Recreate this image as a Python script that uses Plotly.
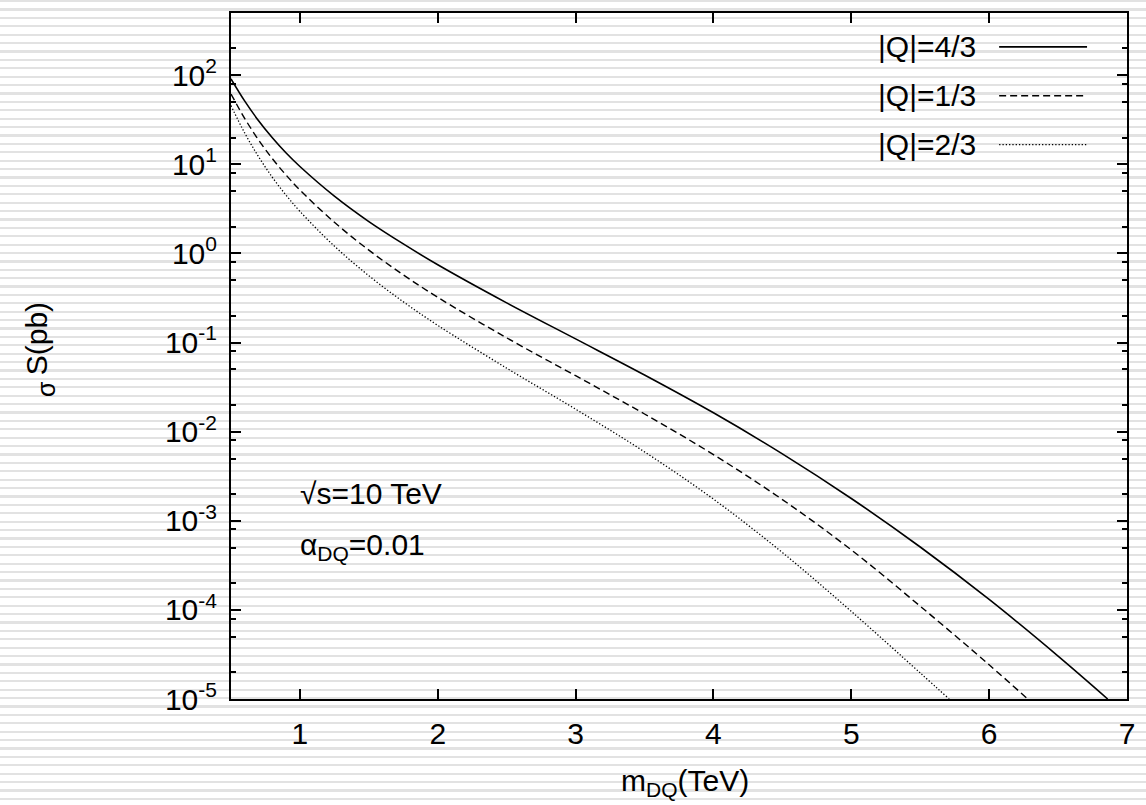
import plotly.graph_objects as go

# ---- data ----
x_q43 = [0.5, 0.6, 0.7, 0.8, 0.9, 1.0, 1.25, 1.5, 1.75, 2.0, 2.5, 3.0, 3.5, 4.0, 4.5, 5.0, 5.5, 6.0, 6.5, 6.86]
y_q43 = [91.2, 51.3, 30.9, 19.9, 13.4, 9.46, 4.40, 2.28, 1.28, 0.747, 0.279, 0.110, 0.0433, 0.0163, 0.00564,
         0.00178, 5.08e-4, 1.31e-4, 3.03e-5, 1.0e-5]

x_q13 = [0.5, 0.6, 0.7, 0.8, 0.9, 1.0, 1.25, 1.5, 1.75, 2.0, 2.5, 3.0, 3.5, 4.0, 4.5, 5.0, 5.5, 6.0, 6.28]
y_q13 = [61.7, 32.7, 18.8, 11.6, 7.57, 5.16, 2.24, 1.09, 0.576, 0.322, 0.113, 0.0425, 0.0158, 0.00553, 0.00173,
         4.71e-4, 1.10e-4, 2.42e-5, 1.0e-5]

x_q23 = [0.5, 0.6, 0.7, 0.8, 0.9, 1.0, 1.25, 1.5, 1.75, 2.0, 2.5, 3.0, 3.5, 4.0, 4.5, 5.0, 5.5, 5.71]
y_q23 = [45.7, 22.4, 12.2, 7.16, 4.50, 2.97, 1.21, 0.563, 0.287, 0.156, 0.0516, 0.0179, 0.00593, 0.00175,
         4.40e-4, 9.62e-5, 1.96e-5, 1.0e-5]

series_names = ["|Q|=4/3", "|Q|=1/3", "|Q|=2/3"]
x_ticks = [1, 2, 3, 4, 5, 6, 7]
y_tick_exps = [-5, -4, -3, -2, -1, 0, 1, 2]
y_minor_mults = [2, 5, 8]

# ---- geometry (pixels of the 1146x805 page) ----
W, H = 1146, 805
L, R, T, B = 231, 1128, 11, 699
FONT = "Liberation Sans, Arial, sans-serif"
FS = 30


def px(xp):
    return (xp - L) / (R - L)


def py(yp):
    return (B - yp) / (B - T)


styles = [dict(color="black", width=1.6),
          dict(color="black", width=1.4, dash="7px,4px"),
          dict(color="black", width=1.3, dash="1.3px,2px")]

fig = go.Figure()
for xs, ys, nm, st in zip([x_q43, x_q13, x_q23], [y_q43, y_q13, y_q23], series_names, styles):
    fig.add_trace(go.Scatter(x=xs, y=ys, mode="lines", name=nm,
                             line=dict(shape="spline", smoothing=1.0, **st),
                             showlegend=False, cliponaxis=True))

shapes = []
annotations = []
# legend (text on left, key on right)
leg_y = [45, 94, 143]
for nm, st, yy in zip(series_names, styles, leg_y):
    annotations.append(dict(xref="paper", yref="paper", x=px(979), y=py(yy), text=nm, showarrow=False,
                            xanchor="right", yanchor="middle", font=dict(family=FONT, size=FS, color="black")))
    shapes.append(dict(type="line", xref="paper", yref="paper", x0=px(1000), x1=px(1088), y0=py(yy), y1=py(yy),
                       line=st, layer="above"))

annotations.append(dict(xref="paper", yref="paper", x=px(298), y=py(493), text="√s=10 TeV", showarrow=False,
                        xanchor="left", yanchor="middle", font=dict(family=FONT, size=FS, color="black")))
annotations.append(dict(xref="paper", yref="paper", x=px(298), y=py(546), text="α<sub>DQ</sub>=0.01",
                        showarrow=False, xanchor="left", yanchor="middle",
                        font=dict(family=FONT, size=FS, color="black")))
# axis titles
annotations.append(dict(xref="paper", yref="paper", x=px(686), y=py(783), text="m<sub>DQ</sub>(TeV)",
                        showarrow=False, xanchor="center", yanchor="middle",
                        font=dict(family=FONT, size=FS, color="black")))
annotations.append(dict(xref="paper", yref="paper", x=px(36), y=py(338), text="S(pb)",
                        showarrow=False, xanchor="center", yanchor="middle", textangle=-90,
                        font=dict(family=FONT, size=FS, color="black")))
annotations.append(dict(xref="paper", yref="paper", x=px(46), y=py(388), text="σ",
                        showarrow=False, xanchor="center", yanchor="middle", textangle=-90,
                        font=dict(family=FONT, size=25, color="black")))

y_tickvals = [10.0 ** e for e in y_tick_exps]
y_ticktext = ["10<sup>%d</sup>" % e for e in y_tick_exps]
y_minor = [m * 10.0 ** e for e in y_tick_exps for m in y_minor_mults if m * 10.0 ** e < 500]

fig.update_layout(
    width=W, height=H,
    margin=dict(l=L, r=W - R, t=T, b=H - B, pad=0),
    paper_bgcolor="white", plot_bgcolor="white",
    shapes=shapes, annotations=annotations,
    showlegend=False,
    font=dict(family=FONT, size=FS, color="black"),
)
fig.update_xaxes(range=[0.5, 7], tickvals=x_ticks, ticktext=[str(v) for v in x_ticks],
                 ticks="inside", ticklen=10, tickwidth=1.5, tickcolor="black",
                 showline=True, linecolor="black", linewidth=2, mirror="ticks",
                 showgrid=False, zeroline=False, ticklabelstandoff=7,
                 tickfont=dict(family=FONT, size=FS, color="black"))
fig.update_yaxes(type="log", range=[-5, 2.699], tickvals=y_tickvals, ticktext=y_ticktext,
                 ticks="inside", ticklen=10, tickwidth=1.5, tickcolor="black",
                 minor=dict(tickvals=y_minor, ticks="inside", ticklen=5, tickwidth=1.5, tickcolor="black",
                            showgrid=False),
                 showline=True, linecolor="black", linewidth=2, mirror="ticks",
                 showgrid=False, zeroline=False, ticklabelstandoff=6,
                 tickfont=dict(family=FONT, size=FS, color="black"))

# page styling: no body margin; faint horizontal stripe texture multiplied over the whole page
page_js = (
    "document.documentElement.style.margin='0';"
    "document.body.style.margin='0';"
    "document.body.style.overflow='hidden';"
    "var ov=document.createElement('div');"
    "ov.style.cssText='position:fixed;left:0;top:0;width:1146px;height:805px;pointer-events:none;"
    "z-index:1000;mix-blend-mode:multiply;"
    "background:repeating-linear-gradient(to bottom, #e2e2e2 0px, #e2e2e2 2.2px, #ffffff 2.2px, #ffffff 8.397px);';"
    "document.body.appendChild(ov);"
)
fig.write_html("out.html", config={"displayModeBar": False}, post_script=page_js)
